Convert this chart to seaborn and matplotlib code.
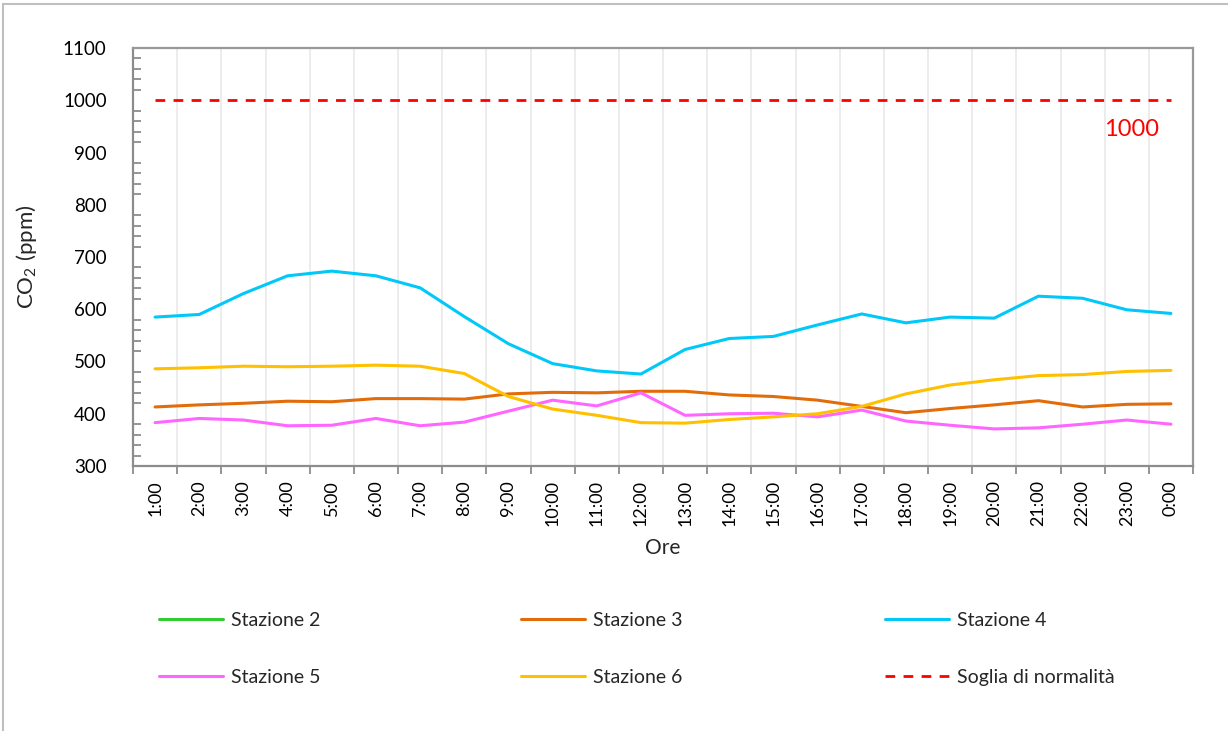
import numpy as np
import pandas as pd
import matplotlib
matplotlib.use("Agg")
import matplotlib.pyplot as plt
from matplotlib.lines import Line2D
from matplotlib.patches import Rectangle
import seaborn as sns

hours = ['1:00', '2:00', '3:00', '4:00', '5:00', '6:00', '7:00', '8:00', '9:00', '10:00',
         '11:00', '12:00', '13:00', '14:00', '15:00', '16:00', '17:00', '18:00', '19:00',
         '20:00', '21:00', '22:00', '23:00', '0:00']
stazione_2 = [np.nan] * 24
stazione_3 = [413, 417, 420, 424, 423, 429, 429, 428, 438, 441, 440, 443,
              443, 436, 433, 426, 414, 402, 410, 417, 425, 413, 418, 419]
stazione_4 = [585, 590, 630, 664, 673, 664, 641, 586, 534, 496, 482, 476,
              523, 544, 548, 570, 591, 574, 585, 583, 625, 621, 599, 592]
stazione_5 = [383, 391, 388, 377, 378, 391, 377, 384, 405, 426, 415, 440,
              397, 400, 401, 394, 407, 386, 378, 371, 373, 380, 388, 380]
stazione_6 = [486, 488, 491, 490, 491, 493, 491, 477, 433, 409, 397, 383,
              382, 389, 394, 400, 414, 438, 455, 465, 473, 475, 481, 483]
soglia = [1000] * 24
soglia_label = '1000'

series_names = ['Stazione 2', 'Stazione 3', 'Stazione 4', 'Stazione 5', 'Stazione 6']
series_values = [stazione_2, stazione_3, stazione_4, stazione_5, stazione_6]
colors = ['#33CC33', '#E36C0A', '#00C8F8', '#FF66FF', '#FFC000']

sns.set_theme(style='white')
plt.rcParams['font.family'] = ['Lato', 'DejaVu Sans']
plt.rcParams['mathtext.default'] = 'regular'

fig = plt.figure(figsize=(12.28, 7.31), dpi=100)
ax = fig.add_axes([133/1228, 1-466/731, (1193-133)/1228, (466-48)/731])

idx = np.arange(len(hours))
for name, vals, col in zip(series_names, series_values, colors):
    df = pd.DataFrame({'x': idx, 'y': vals}).dropna()
    if len(df):
        sns.lineplot(data=df, x='x', y='y', ax=ax, color=col, lw=2.2, legend=False)

dft = pd.DataFrame({'x': idx, 'y': soglia})
sns.lineplot(data=dft, x='x', y='y', ax=ax, color='#FF0000', lw=2.0, legend=False,
             linestyle=(0, (3.5, 3.0)))
ax.text(22.1, 944, soglia_label, color='#FF0000', fontsize=17, ha='center', va='center')

ax.set_xlim(-0.5, len(hours) - 0.5)
ax.set_ylim(300, 1100)
ax.set_xticks(idx)
ax.set_xticklabels(hours, rotation=90, fontsize=13, color='#000000')
ax.set_xticks(np.arange(-0.5, len(hours)), minor=True)
ax.set_yticks(np.arange(300, 1101, 100))
ax.set_yticks(np.arange(300, 1101, 20), minor=True)
ax.tick_params(axis='y', which='major', direction='out', length=7, width=1.3,
               color='#8c8c8c', labelsize=13.5, pad=12, labelcolor='#000000')
ax.tick_params(axis='y', which='minor', direction='in', length=6, width=1.3, color='#8c8c8c', left=True)
ax.tick_params(axis='x', which='major', length=0, pad=10)
ax.tick_params(axis='x', which='minor', direction='out', length=6, width=1.3, color='#8c8c8c', bottom=True)
ax.grid(False)
ax.xaxis.grid(True, which='minor', color='#EBEBEB', lw=1.3)
ax.set_axisbelow(True)
for s in ax.spines.values():
    s.set_visible(True)
    s.set_color('#999999')
    s.set_linewidth(1.6)
ax.spines['left'].set_color('#8c8c8c')
ax.spines['bottom'].set_color('#8c8c8c')

ax.set_xlabel('Ore', fontsize=15)
ax.set_ylabel('CO$_2$ (ppm)', fontsize=16)
ax.xaxis.set_label_coords(0.5, (466-538)/418)
ax.yaxis.set_label_coords((39-133)/1060, 0.5)

# legend in three columns
handles = [Line2D([], [], color=c, lw=2.2) for c in colors]
handles.append(Line2D([], [], color='#FF0000', lw=2.0, linestyle=(0, (3.5, 3.0))))
labels = series_names + ['Soglia di normalità']
cols = [[0, 3], [1, 4], [2, 5]]
col_x = [159, 521, 885]
for cx, ids in zip(col_x, cols):
    fig.legend([handles[i] for i in ids], [labels[i] for i in ids],
               loc='upper left', bbox_to_anchor=(cx/1228, 1-612/731),
               frameon=False, fontsize=14, handlelength=3.3, handletextpad=0.4,
               labelspacing=2.05, borderpad=0, borderaxespad=0)

fig.patches.append(Rectangle((3/1228, -0.1), 1.1, 1.1 - 4/731, transform=fig.transFigure,
                             fill=False, edgecolor='#BFBFBF', lw=1.5))

fig.savefig('out.png', dpi=100, facecolor='white')
